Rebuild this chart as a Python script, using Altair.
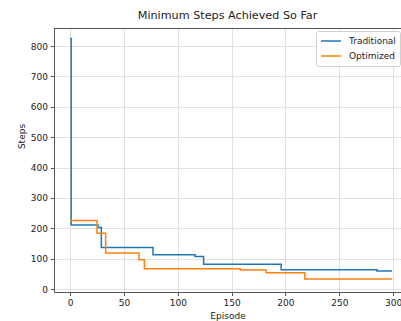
import altair as alt
import pandas as pd

# Breakpoints of the running minimum (episode, steps)
trad_ep = [0, 1, 26, 29, 77, 116, 124, 196, 285, 299]
trad_val = [825, 211, 203, 137, 113, 107, 82, 64, 60, 60]
opt_ep = [0, 25, 33, 64, 69, 158, 182, 218, 299]
opt_val = [226, 184, 119, 97, 67, 63, 54, 33, 33]

series = ["Traditional", "Optimized"]
colors = ["#1f77b4", "#ff7f0e"]

x_ticks = [0, 50, 100, 150, 200, 250, 300]
y_ticks = [0, 100, 200, 300, 400, 500, 600, 700, 800]

rows = []
for e, v in zip(trad_ep, trad_val):
    rows.append({"Episode": e, "Steps": v, "Method": "Traditional", "o": 0})
for e, v in zip(opt_ep, opt_val):
    rows.append({"Episode": e, "Steps": v, "Method": "Optimized", "o": 1})
df = pd.DataFrame(rows)

W, H = 347, 264
FONT = "DejaVu Sans"

x_enc = alt.X(
    "Episode:Q",
    scale=alt.Scale(domain=[-14.95, 307.3], nice=False, zero=False),
    axis=alt.Axis(
        values=x_ticks, title="Episode", grid=True, tickSize=3.5,
        labelPadding=3, titlePadding=4,
    ),
)
y_enc = alt.Y(
    "Steps:Q",
    scale=alt.Scale(domain=[-9.5, 859.5], nice=False, zero=False),
    axis=alt.Axis(
        values=y_ticks, title="Steps", grid=True, tickSize=3.5,
        labelPadding=3, titleX=-33, titleY=108, titleAngle=-90,
        titleAlign="center", titleBaseline="middle",
    ),
)

lines = alt.Chart(df).mark_line(interpolate="step-after", strokeWidth=1.5).encode(
    x=x_enc,
    y=y_enc,
    color=alt.Color(
        "Method:N",
        scale=alt.Scale(domain=series, range=colors),
        sort=series,
        legend=alt.Legend(
            title=None, orient="none", legendX=262, legendY=3,
            symbolType="stroke", symbolSize=400, symbolStrokeWidth=1.5,
            labelFont=FONT, labelFontSize=9, labelColor="#222",
            labelOffset=7, padding=4, rowPadding=3, clipHeight=12,
            strokeColor="#d0d0d0", fillColor="white", cornerRadius=2,
        ),
    ),
    order="o:Q",
    detail="Method:N",
)

top_border = alt.Chart(df).mark_rule(color="#555", strokeWidth=0.8).encode(
    x=alt.value(0), x2=alt.value(W), y=alt.value(0.5)
)

chart = (
    alt.layer(lines, top_border)
    .properties(
        width=W, height=H,
        title=alt.TitleParams(
            "Minimum Steps Achieved So Far", font=FONT, fontSize=11.2,
            fontWeight="normal", color="#222", anchor="middle", offset=7,
        ),
        autosize=alt.AutoSizeParams(type="none"),
        padding={"left": 54, "top": 28, "right": 0, "bottom": 29},
    )
    .configure_view(stroke=None)
    .configure_axis(
        labelFont=FONT, labelFontSize=9, labelColor="#222",
        titleFont=FONT, titleFontSize=9, titleColor="#222", titleFontWeight="normal",
        domainColor="#555", tickColor="#555", gridColor="#d9d9d9", gridWidth=0.8,
    )
)

chart.save("out.html", embed_options={"renderer": "svg", "actions": False})
